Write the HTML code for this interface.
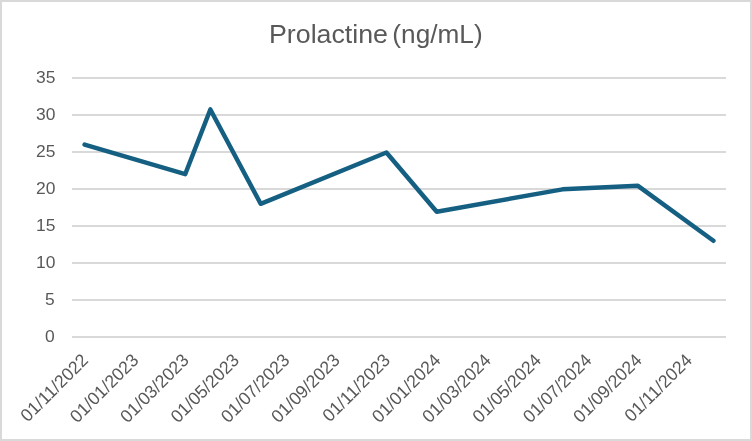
<!DOCTYPE html>
<html><head><meta charset="utf-8"><style>
html,body{margin:0;padding:0;background:#fff;}
body{width:752px;height:441px;overflow:hidden;position:relative;}
svg{position:absolute;left:0;top:0;display:block;will-change:transform;}
text{font-family:"Liberation Sans",sans-serif;}
</style></head><body>
<svg width="752" height="441" viewBox="0 0 752 441">
<rect x="0" y="0" width="752" height="441" fill="#fff"/>
<rect x="1.0" y="1.0" width="750" height="439" fill="none" stroke="#d9d9d9" stroke-width="2"/>
<g font-size="26" fill="#595959"><text transform="translate(269.0,43.2) scale(1.03,1)">Prolactine</text><text transform="translate(392.36,43.2) scale(1.008,1)">(ng/mL)</text></g>
<g stroke="#d9d9d9" stroke-width="2.0">
<line x1="72.0" x2="726.0" y1="337.0" y2="337.0"/>
<line x1="72.0" x2="726.0" y1="300.0" y2="300.0"/>
<line x1="72.0" x2="726.0" y1="263.0" y2="263.0"/>
<line x1="72.0" x2="726.0" y1="226.0" y2="226.0"/>
<line x1="72.0" x2="726.0" y1="189.0" y2="189.0"/>
<line x1="72.0" x2="726.0" y1="152.0" y2="152.0"/>
<line x1="72.0" x2="726.0" y1="115.0" y2="115.0"/>
<line x1="72.0" x2="726.0" y1="78.0" y2="78.0"/>
</g>
<g font-size="16" fill="#595959" text-anchor="end">
<text transform="translate(54.7,341.8) scale(1.09,1)">0</text>
<text transform="translate(54.7,304.8) scale(1.09,1)">5</text>
<text transform="translate(55.5,267.8) scale(1.09,1)">10</text>
<text transform="translate(55.5,230.8) scale(1.09,1)">15</text>
<text transform="translate(55.5,193.8) scale(1.09,1)">20</text>
<text transform="translate(55.5,156.8) scale(1.09,1)">25</text>
<text transform="translate(55.5,119.8) scale(1.09,1)">30</text>
<text transform="translate(55.5,82.8) scale(1.09,1)">35</text>
</g>
<g font-size="18" fill="#595959" text-anchor="end">
<text transform="translate(89.30,361.30) rotate(-45) scale(0.98,1)" x="0" y="0">01/11/2022</text>
<text transform="translate(139.63,361.30) rotate(-45) scale(0.98,1)" x="0" y="0">01/01/2023</text>
<text transform="translate(189.96,361.30) rotate(-45) scale(0.98,1)" x="0" y="0">01/03/2023</text>
<text transform="translate(240.29,361.30) rotate(-45) scale(0.98,1)" x="0" y="0">01/05/2023</text>
<text transform="translate(290.62,361.30) rotate(-45) scale(0.98,1)" x="0" y="0">01/07/2023</text>
<text transform="translate(340.95,361.30) rotate(-45) scale(0.98,1)" x="0" y="0">01/09/2023</text>
<text transform="translate(391.28,361.30) rotate(-45) scale(0.98,1)" x="0" y="0">01/11/2023</text>
<text transform="translate(441.61,361.30) rotate(-45) scale(0.98,1)" x="0" y="0">01/01/2024</text>
<text transform="translate(491.94,361.30) rotate(-45) scale(0.98,1)" x="0" y="0">01/03/2024</text>
<text transform="translate(542.27,361.30) rotate(-45) scale(0.98,1)" x="0" y="0">01/05/2024</text>
<text transform="translate(592.60,361.30) rotate(-45) scale(0.98,1)" x="0" y="0">01/07/2024</text>
<text transform="translate(642.93,361.30) rotate(-45) scale(0.98,1)" x="0" y="0">01/09/2024</text>
<text transform="translate(693.26,361.30) rotate(-45) scale(0.98,1)" x="0" y="0">01/11/2024</text>
</g>
<path d="M84.58,144.60 L185.19,174.20 L210.35,109.45 L260.65,203.80 L386.42,152.52 L436.73,211.72 L562.50,189.37 L637.96,185.82 L713.42,240.80" fill="none" stroke="#156082" stroke-width="4.5" stroke-linejoin="round" stroke-linecap="round"/>
</svg>
</body></html>
